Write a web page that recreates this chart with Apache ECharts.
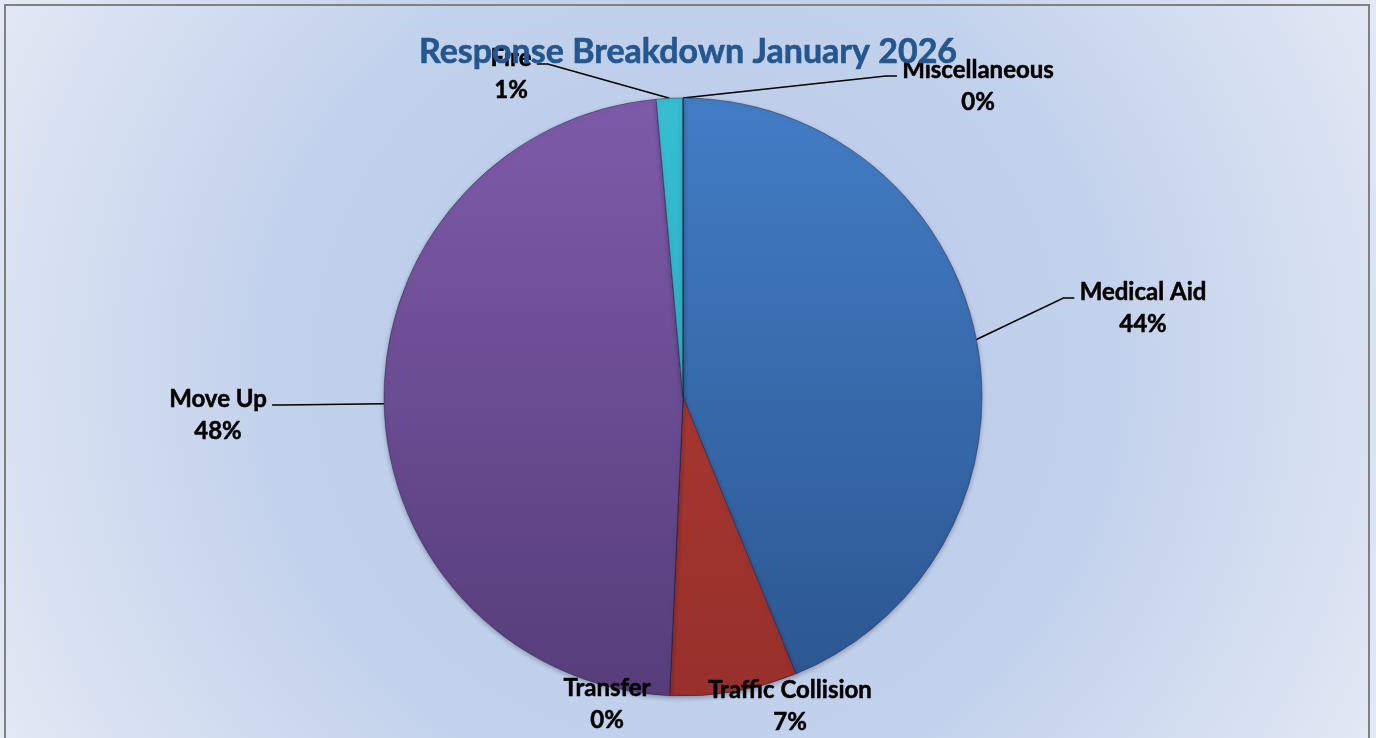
<!DOCTYPE html>
<html><head><meta charset="utf-8">
<script src="https://cdn.jsdelivr.net/npm/echarts@6/dist/echarts.min.js"></script>
<style>html,body{margin:0;padding:0;background:#fff}#chart{width:1376px;height:738px}</style>
</head><body><div id="chart"></div>
<script>
// ---- data ----
const titleText = 'Response Breakdown January 2026';
const categories = ['Medical Aid', 'Traffic Collision', 'Transfer', 'Move Up', 'Fire', 'Miscellaneous'];
const counts = [306, 48, 0, 334, 10, 0];

// ---- styling / layout (not data) ----
const sliceColors = [
  ['#437DC6', '#2B5690'],
  ['#B43C34', '#98302B'],
  ['#9BBB59', '#7A9440'],
  ['#7E5BAA', '#563D7A'],
  ['#36BED1', '#25A3B5'],
  ['#F79646', '#D07A30']
];
const PIE_CX = 683, PIE_CY = 397, PIE_R = 299;
const LABEL_FONT = 24, LABEL_LH = 32;
const labelPlace = {
  'Medical Aid':       { x: 1143, y: 308, side: 'left',  line: true },
  'Traffic Collision': { x: 790,  y: 706, line: false },
  'Transfer':          { x: 607,  y: 704, line: false },
  'Move Up':           { x: 218,  y: 415, side: 'right', line: true },
  'Fire':              { x: 511,  y: 74,  side: 'right', line: true },
  'Miscellaneous':     { x: 978,  y: 86,  side: 'left',  line: true }
};

function grad(c) {
  return { type: 'linear', x: 0, y: PIE_CY - PIE_R, x2: 0, y2: PIE_CY + PIE_R, global: true,
    colorStops: [{ offset: 0, color: c[0] }, { offset: 1, color: c[1] }] };
}

const chart = echarts.init(document.getElementById('chart'));
chart.setOption({
  backgroundColor: { type: 'radial', x: 0.5, y: 0.5, r: 1.06,
    colorStops: [{ offset: 0, color: '#B7C9E9' }, { offset: 0.55, color: '#C3D2EC' }, { offset: 1, color: '#E3E9F5' }] },
  title: {
    text: titleText, left: 'center', top: 27, z: 20,
    textStyle: { fontFamily: 'Lato', fontWeight: 'bold', fontSize: 34, lineHeight: 40, color: '#245790',
      textBorderColor: '#245790', textBorderWidth: 0.6 }
  },
  graphic: [{
    type: 'rect', silent: true, z: 100,
    shape: { x: 5, y: 5, width: 1364, height: 745 },
    style: { fill: null, stroke: '#808080', lineWidth: 2 }
  }],
  series: [{
    type: 'pie',
    center: [PIE_CX, PIE_CY],
    radius: PIE_R,
    startAngle: 90,
    clockwise: true,
    percentPrecision: 0,
    avoidLabelOverlap: false,
    animation: false,
    itemStyle: { borderColor: 'rgba(30,30,60,0.45)', borderWidth: 1,
      shadowBlur: 5, shadowColor: 'rgba(20,20,50,0.3)', shadowOffsetY: 2 },
    label: {
      show: true, position: 'outside',
      formatter: '{b}\n{d}%',
      fontFamily: 'Lato', fontWeight: 'bold', fontSize: LABEL_FONT, lineHeight: LABEL_LH,
      color: '#000', align: 'center', textBorderColor: '#000', textBorderWidth: 0.5
    },
    labelLine: { show: true, lineStyle: { color: '#000', width: 1.5 } },
    labelLayout: function (p) {
      const pl = labelPlace[categories[p.dataIndex]];
      const w = p.labelRect.width, h = p.labelRect.height;
      const res = { x: pl.x, y: pl.y, align: 'center', verticalAlign: 'middle' };
      if (pl.line && p.labelLinePoints) {
        const start = p.labelLinePoints[0];
        const ly = pl.y - h / 2 + LABEL_LH / 2 + 6;
        const ex = pl.side === 'left' ? pl.x - w / 2 - 5 : pl.x + w / 2 + 5;
        const el = pl.side === 'left' ? ex - 11 : ex + 11;
        res.labelLinePoints = [start, [el, ly], [ex, ly]];
      }
      return res;
    },
    data: categories.map((name, i) => ({
      name: name,
      value: counts[i],
      itemStyle: { color: grad(sliceColors[i]) },
      labelLine: { show: labelPlace[name].line }
    }))
  }]
});
</script>
</body></html>
